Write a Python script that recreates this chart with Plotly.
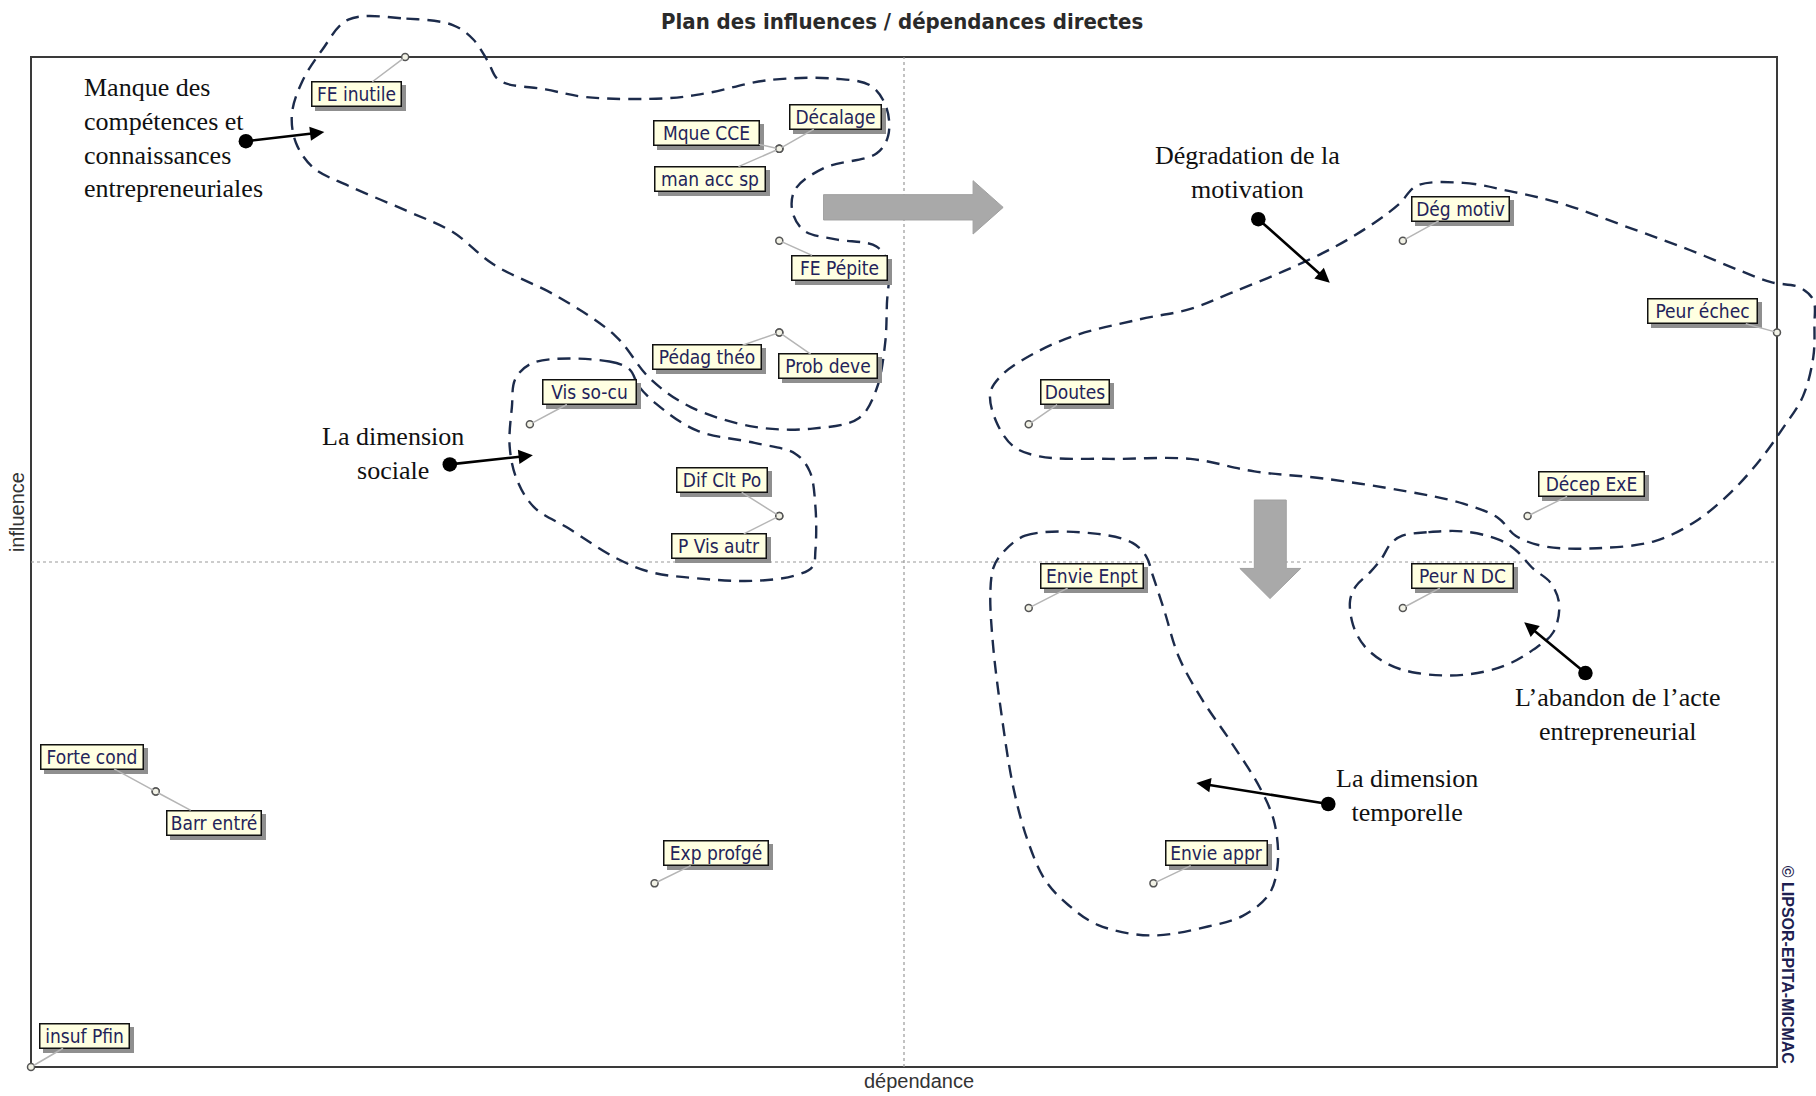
import plotly.graph_objects as go

# Variables MICMAC : dependance (x) / influence (y)
variables = ["FE inutile", "Mque CCE", "Décalage", "man acc sp", "FE Pépite",
             "Pédag théo", "Prob deve", "Vis so-cu", "Dif Clt Po", "P Vis autr",
             "Forte cond", "Barr entré", "Exp profgé", "insuf Pfin", "Dég motiv",
             "Peur échec", "Doutes", "Décep ExE", "Envie Enpt", "Peur N DC", "Envie appr"]
dependance = [3, 6, 6, 6, 6, 6, 6, 4, 6, 6, 1, 1, 5, 0, 11, 14, 8, 12, 8, 11, 9]
influence = [11, 10, 10, 10, 9, 8, 8, 7, 6, 6, 3, 3, 2, 0, 9, 8, 7, 6, 5, 5, 2]

# milieu des axes (traits pointilles)
dep_mid = 7
infl_mid = 5.5

# contours des groupes (traces a la main sur le plan)
comp_x = [2.544, 3.010, 3.382, 3.545, 3.661, 3.754, 4.127, 4.452, 5.104, 5.430, 5.895, 6.453,
          6.733, 6.858, 6.873, 6.779, 6.360, 6.128, 6.104, 6.197, 6.453, 6.779, 6.873, 6.863,
          6.849, 6.779, 6.640, 6.267, 5.802, 5.290, 4.964, 4.685, 4.220, 3.707, 3.382, 3.010,
          2.544, 2.265, 2.125, 2.092, 2.172, 2.334, 2.544]
comp_y = [11.407, 11.418, 11.348, 11.193, 10.959, 10.745, 10.648, 10.563, 10.551, 10.609,
          10.745, 10.764, 10.687, 10.454, 10.143, 9.948, 9.792, 9.559, 9.326, 9.111, 9.014,
          8.937, 8.742, 8.314, 7.886, 7.381, 7.069, 6.953, 6.972, 7.187, 7.497, 7.964, 8.393,
          8.742, 9.093, 9.326, 9.598, 9.792, 10.064, 10.376, 10.726, 11.076, 11.407]

soc_x = [4.033, 4.638, 4.801, 4.871, 5.011, 5.337, 5.802, 6.128, 6.244, 6.290, 6.290, 6.267,
         6.128, 5.802, 5.337, 4.964, 4.685, 4.313, 4.033, 3.893, 3.838, 3.856, 3.885, 4.033]
soc_y = [7.673, 7.684, 7.595, 7.420, 7.225, 6.933, 6.797, 6.680, 6.487, 6.098, 5.631, 5.450,
         5.353, 5.295, 5.322, 5.392, 5.547, 5.864, 6.098, 6.408, 6.759, 7.187, 7.497, 7.673]

motiv_x = [11.112, 11.485, 11.857, 12.275, 12.835, 13.300, 13.718, 13.952, 14.184, 14.291,
           14.300, 14.291, 14.208, 14.045, 13.859, 13.626, 13.346, 13.021, 12.556, 12.136,
           11.904, 11.764, 11.485, 11.019, 10.368, 9.809, 9.297, 8.646, 8.087, 7.878, 7.739,
           7.692, 7.785, 8.041, 8.367, 8.879, 9.297, 9.623, 10.041, 10.461, 10.787, 10.973,
           11.112]
motiv_y = [9.598, 9.629, 9.539, 9.403, 9.131, 8.898, 8.665, 8.548, 8.489, 8.353, 8.081,
           7.731, 7.304, 6.953, 6.603, 6.253, 5.942, 5.728, 5.650, 5.670, 5.786, 5.980, 6.136,
           6.272, 6.408, 6.487, 6.623, 6.623, 6.650, 6.759, 7.031, 7.342, 7.537, 7.770, 7.964,
           8.140, 8.256, 8.431, 8.665, 8.937, 9.209, 9.403, 9.598]

temp_x = [7.762, 7.971, 8.553, 8.832, 8.941, 8.995, 9.088, 9.204, 9.391, 9.623, 9.856, 9.972,
          9.995, 9.925, 9.716, 9.437, 8.972, 8.553, 8.320, 8.134, 7.994, 7.878, 7.785, 7.715,
          7.692, 7.715, 7.762]
temp_y = [5.553, 5.786, 5.806, 5.708, 5.565, 5.353, 4.967, 4.465, 4.001, 3.538, 3.036, 2.650,
          2.187, 1.878, 1.646, 1.530, 1.433, 1.549, 1.762, 2.032, 2.457, 3.036, 3.809, 4.581,
          5.160, 5.430, 5.553]

aband_x = [10.996, 11.205, 11.485, 11.764, 11.904, 12.043, 12.183, 12.253, 12.206, 12.043,
           11.811, 11.485, 11.112, 10.880, 10.694, 10.601, 10.577, 10.624, 10.740, 10.834,
           10.903, 10.996]
aband_y = [5.786, 5.825, 5.833, 5.747, 5.631, 5.430, 5.276, 5.045, 4.735, 4.543, 4.368,
           4.271, 4.291, 4.388, 4.581, 4.813, 5.083, 5.237, 5.392, 5.547, 5.701, 5.786]

# grosses fleches grises
fleche_droite_x = [6.355, 7.554, 7.554, 7.795, 7.554, 7.554, 6.355, 6.355]
fleche_droite_y = [9.501, 9.501, 9.653, 9.362, 9.072, 9.225, 9.225, 9.501]
fleche_bas_x = [9.809, 10.065, 10.065, 10.181, 9.935, 9.693, 9.809, 9.809]
fleche_bas_y = [6.175, 6.175, 5.430, 5.430, 5.102, 5.430, 5.430, 6.175]

# commentaires : texte, position, alignement, fleche (depart -> pointe)
commentaires = [
    ("Manque des<br>compétences et<br>connaissances<br>entrepreneuriales", 0.409, 10.118, "left",
     (1.711, 10.081), (2.352, 10.182)),
    ("La dimension<br>sociale", 2.903, 6.687, "center", (3.346, 6.561), (4.024, 6.662)),
    ("Dégradation de la<br>motivation", 9.751, 9.741, "center", (9.829, 9.248), (10.414, 8.542)),
    ("L’abandon de l’acte<br>entrepreneurial", 12.727, 3.834, "center", (12.476, 4.277), (11.973, 4.843)),
    ("La dimension<br>temporelle", 11.035, 2.962, "center", (10.414, 2.862), (9.344, 3.094)),
]

# placement des etiquettes : decalage (px) et largeur de la boite (px)
etiquettes = {
    "FE inutile": (-49, 37, 88), "Mque CCE": (-73, -16, 104), "Décalage": (56, -32, 90),
    "man acc sp": (-69, 30, 109), "FE Pépite": (60, 27, 94), "Pédag théo": (-72, 25, 107),
    "Prob deve": (49, 34, 97), "Vis so-cu": (60, -32, 92), "Dif Clt Po": (-57, -36, 89),
    "P Vis autr": (-60, 30, 93), "Forte cond": (-64, -35, 101), "Barr entré": (58, 31, 93),
    "Exp profgé": (61, -30, 103), "insuf Pfin": (53, -31, 88), "Dég motiv": (58, -32, 96),
    "Peur échec": (-75, -21, 108), "Doutes": (46, -32, 67), "Décep ExE": (64, -32, 104),
    "Envie Enpt": (63, -32, 101), "Peur N DC": (60, -32, 100), "Envie appr": (63, -30, 100),
}

CONTOUR = "#1c2b4b"
LABEL_FONT = "Liberation Sans Narrow, DejaVu Sans Condensed, Arial Narrow, sans-serif"
SANS = "Liberation Sans, Arial, sans-serif"
SERIF = "Liberation Serif, Times New Roman, serif"

fig = go.Figure()

# cadre et traits du milieu
fig.add_shape(type="rect", x0=0, y0=0, x1=14, y1=11, line=dict(color="#3a3a3a", width=2), layer="below")
fig.add_shape(type="line", x0=dep_mid, x1=dep_mid, y0=0, y1=11, line=dict(color="#9a9a9a", width=1.2, dash="dot"), layer="below")
fig.add_shape(type="line", x0=0, x1=14, y0=infl_mid, y1=infl_mid, line=dict(color="#9a9a9a", width=1.2, dash="dot"), layer="below")

for fx, fy in [(fleche_droite_x, fleche_droite_y), (fleche_bas_x, fleche_bas_y)]:
    fig.add_trace(go.Scatter(x=fx, y=fy, mode="lines", fill="toself", fillcolor="#a9a9a9",
                             line=dict(color="#a0a0a0", width=1), hoverinfo="skip"))

for cx, cy in [(comp_x, comp_y), (soc_x, soc_y), (motiv_x, motiv_y), (temp_x, temp_y), (aband_x, aband_y)]:
    fig.add_trace(go.Scatter(x=cx, y=cy, mode="lines",
                             line=dict(color=CONTOUR, width=2.4, dash="13px,8px", shape="spline", smoothing=1.0),
                             hoverinfo="skip"))

fig.add_trace(go.Scatter(x=dependance, y=influence, mode="markers", text=variables,
                         marker=dict(size=7, color="#f2f2e6", line=dict(color="#555555", width=1.5)),
                         cliponaxis=False, hoverinfo="text"))

# etiquettes des variables (ombre puis boite)
for name, dx, iy in zip(variables, dependance, influence):
    ax, ay, w = etiquettes[name]
    fig.add_annotation(x=dx, y=iy, text="&nbsp;", showarrow=True, ax=ax, ay=ay, arrowcolor="rgba(0,0,0,0)",
                       arrowhead=0, xshift=4, yshift=-4, width=w, height=23, bgcolor="#8f8f8f",
                       bordercolor="#8f8f8f", borderwidth=1.5, borderpad=0,
                       font=dict(family=LABEL_FONT, size=19, color="rgba(0,0,0,0)"))
    fig.add_annotation(x=dx, y=iy, text=name, showarrow=True, ax=ax, ay=ay, arrowcolor="#b5b5b5",
                       arrowwidth=1.5, arrowhead=0, standoff=3, width=w, height=23, bgcolor="#ffffe1",
                       bordercolor="#111111", borderwidth=1.5, borderpad=0,
                       font=dict(family=LABEL_FONT, size=19, color="#23235a"))

# commentaires avec fleches noires
for txt, tx, ty, al, (x0, y0), (x1, y1) in commentaires:
    fig.add_annotation(x=tx, y=ty, text=txt, showarrow=False, xanchor=al if al == "left" else "center",
                       align=al, font=dict(family=SERIF, size=26, color="#111111"))
    fig.add_annotation(x=x1, y=y1, ax=x0, ay=y0, xref="x", yref="y", axref="x", ayref="y", text="",
                       showarrow=True, arrowhead=2, arrowsize=1.1, arrowwidth=2.6, arrowcolor="#000000",
                       arrowside="end+start", startarrowhead=6, startarrowsize=1.4)

# titres
fig.add_annotation(x=6.985, y=11.392, text="<b>Plan des influences / dépendances directes</b>", showarrow=False,
                   font=dict(family=LABEL_FONT, size=22, color="#2a2a2a"))
fig.add_annotation(x=7.117, y=-0.152, text="dépendance", showarrow=False,
                   font=dict(family=SANS, size=20, color="#333333"))
fig.add_annotation(x=-0.112, y=6.044, text="influence", showarrow=False, textangle=-90,
                   font=dict(family=SANS, size=20, color="#333333"))
fig.add_annotation(x=14.082, y=1.111, text="<b>© LIPSOR-EPITA-MICMAC</b>", showarrow=False, textangle=90,
                   font=dict(family=SANS, size=16, color="#1e1e50"))

fig.update_layout(
    width=1816, height=1096, autosize=False,
    margin=dict(l=0, r=0, t=0, b=0),
    paper_bgcolor="white", plot_bgcolor="white",
    showlegend=False,
    xaxis=dict(range=[-0.2486, 14.3127], visible=False, fixedrange=True),
    yaxis=dict(range=[-0.3158, 11.6208], visible=False, fixedrange=True),
)

fig.write_html("out.html", config={"displayModeBar": False},
               post_script="document.body.style.margin='0px';")
